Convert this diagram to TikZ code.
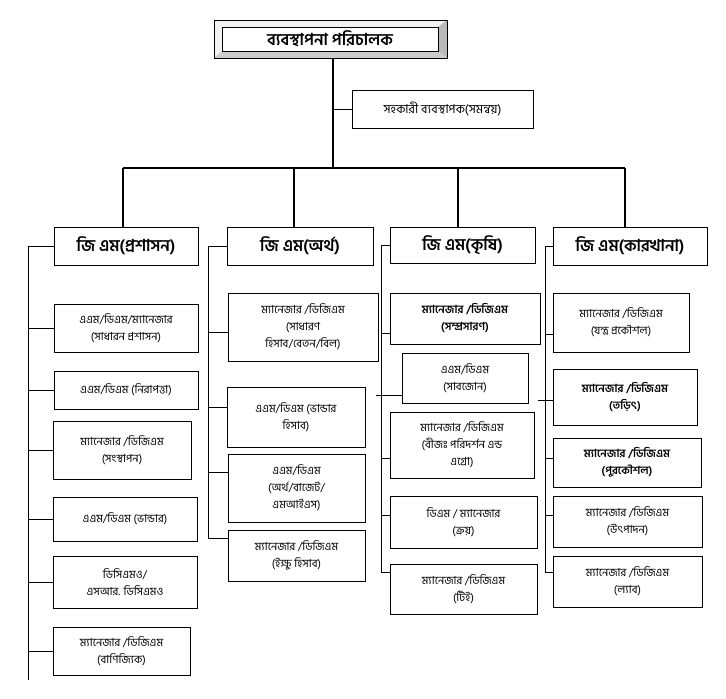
\documentclass[tikz,border=0pt]{standalone}
\usepackage{fontspec}
\newfontfamily\bn[Script=Bengali]{Hind Siliguri}
\begin{document}
\begin{tikzpicture}[x=0.03cm,y=-0.03cm,
  sz/.style 2 args={minimum width=#1*0.03cm, minimum height=#2*0.03cm},
  unit/.style={draw, align=center, inner sep=1pt, line width=0.5pt,
    font=\bn\fontsize{9.5}{14.5}\selectfont},
  boldunit/.style={unit, font=\bn\bfseries\fontsize{9.5}{14.5}\selectfont},
  gm/.style={draw, inner sep=1pt, line width=0.5pt,
    font=\bn\bfseries\fontsize{14}{16}\selectfont},
  trunk/.style={line width=1.4pt},
  branch/.style={line width=0.5pt}]
\useasboundingbox (0,0) rectangle (726,699);

% managing director, bevelled frame
\fill[gray!10] (214,20) -- (447,20) -- (438,27) -- (222,27) -- (222,51) -- (214,58) -- cycle;
\fill[gray!55] (447,20) -- (447,58) -- (438,51) -- (438,27) -- cycle;
\fill[gray!40] (214,58) -- (447,58) -- (438,51) -- (222,51) -- cycle;
\node (mdframe) [draw, sz={233}{38}, line width=0.5pt] at (330.5,39) {};
\node (md) [gm, sz={216}{24}, fill=white] at (330,39) {ব্যবস্থাপনা পরিচালক};
\node (as) [gm, sz={181}{38}, font=\bn\fontsize{10.5}{12}\selectfont] at (442.5,109) {সহকারী ব্যবস্থাপক(সমন্বয়)};

% general managers
\node (gm1) [gm, sz={144}{38}] at (126,246) {জি এম(প্রশাসন)};
\node (gm2) [gm, sz={146}{38}] at (300,246) {জি এম(অর্থ)};
\node (gm3) [gm, sz={145}{36}] at (462.5,245) {জি এম(কৃষি)};
\node (gm4) [gm, sz={154}{38}] at (630,246) {জি এম(কারখানা)};

\coordinate (hub) at (333,168);
\coordinate (drop1) at (123,168);
\coordinate (drop2) at (294,168);
\coordinate (drop3) at (458,168);
\coordinate (drop4) at (625,168);
\draw[trunk] (hub |- mdframe.south) -- (hub);
\draw[trunk] (drop1) -- (drop4);
\foreach \i in {1,2,3,4}
  \draw[trunk] (drop\i) -- (drop\i |- gm\i.north);
\draw[branch] (hub |- as.west) -- (as.west);

% administration
\node (a1) [unit, sz={144}{48}] at (126,328) {এএম/ডিএম/ম্যানেজার\\(সাধারন প্রশাসন)};
\node (a2) [unit, sz={144}{38}] at (126,390) {এএম/ডিএম (নিরাপত্তা)};
\node (a3) [unit, sz={138}{58}] at (122,450) {ম্যানেজার /ডিজিএম\\(সংস্থাপন)};
\node (a4) [unit, sz={144}{44}] at (125,519) {এএম/ডিএম (ভান্ডার)};
\node (a5) [unit, sz={144}{52}] at (125,582) {ডিসিএমও/\\এসআর. ডিসিএমও};
\node (a6) [unit, sz={137}{48}] at (121.5,651) {ম্যানেজার /ডিজিএম\\(বাণিজ্যিক)};

% finance
\node (b1) [unit, sz={150}{68}] at (303,327) {ম্যানেজার /ডিজিএম\\(সাধারণ\\হিসাব/বেতন/বিল)};
\node (b2) [unit, sz={138}{60}] at (296,417) {এএম/ডিএম (ভান্ডার\\হিসাব)};
\node (b3) [unit, sz={137}{68}] at (296.5,488) {এএম/ডিএম\\(অর্থ/বাজেট/\\এমআইএস)};
\node (b4) [unit, sz={137}{51}] at (296.5,555.5) {ম্যানেজার /ডিজিএম\\(ইক্ষু হিসাব)};

% agriculture
\node (c1) [boldunit, sz={150}{51}] at (465,318.5) {ম্যানেজার /ডিজিএম\\(সম্প্রসারণ)};
\node (c2) [unit, sz={126}{50}] at (465,378) {এএম/ডিএম\\(সাবজোন)};
\node (c3) [unit, sz={144}{66}] at (462,445) {ম্যানেজার /ডিজিএম\\(বীজঃ পরিদর্শন এন্ড\\এগ্রো)};
\node (c4) [unit, sz={147}{52}] at (463.5,522) {ডিএম / ম্যানেজার\\(ক্রয়)};
\node (c5) [unit, sz={147}{50}] at (463.5,589) {ম্যানেজার /ডিজিএম\\(টিই)};

% factory
\node (d1) [unit, sz={136}{59}] at (621,322.5) {ম্যানেজার /ডিজিএম\\(যন্ত্র প্রকৌশল)};
\node (d2) [boldunit, sz={144}{56}] at (625,397) {ম্যানেজার /ডিজিএম\\(তড়িৎ)};
\node (d3) [boldunit, sz={148}{49}] at (627,462.5) {ম্যানেজার /ডিজিএম\\(পুরকৌশল)};
\node (d4) [unit, sz={149}{51}] at (627.5,521.5) {ম্যানেজার /ডিজিএম\\(উৎপাদন)};
\node (d5) [unit, sz={149}{51}] at (627.5,581.5) {ম্যানেজার /ডিজিএম\\(ল্যাব)};

% column lines
\coordinate (v1) at (28,680);
\coordinate (v2) at (208,538);
\coordinate (v3) at (381,572);
\coordinate (v4) at (545,572);
\draw[branch] (gm1.west) -| (v1);
\draw[branch] (gm2.west) -| (v2) -- (b4.west |- v2);
\draw[branch] (gm3.west) -| (v3) -- (c5.west |- v3);
\draw[branch] (gm4.west) -| (v4) -- (d5.west |- v4);
\foreach \n in {a1,a2,a3,a4,a5,a6}
  \draw[branch] (v1 |- \n.west) -- (\n.west);
\foreach \n/\y in {b1/332,b2/407,b3/472}
  \draw[branch] (v2 |- 0,\y) -- (\n.west |- 0,\y);
\foreach \n/\y in {c1/333,c3/458,c4/515}
  \draw[branch] (v3 |- 0,\y) -- (\n.west |- 0,\y);
\draw[branch] (376,395) -- (c2.west |- 0,395);
\foreach \n/\y in {d1/334,d3/458,d4/515}
  \draw[branch] (v4 |- 0,\y) -- (\n.west |- 0,\y);
\draw[branch] (538,400) -- (d2.west |- 0,400);
\end{tikzpicture}
\end{document}
